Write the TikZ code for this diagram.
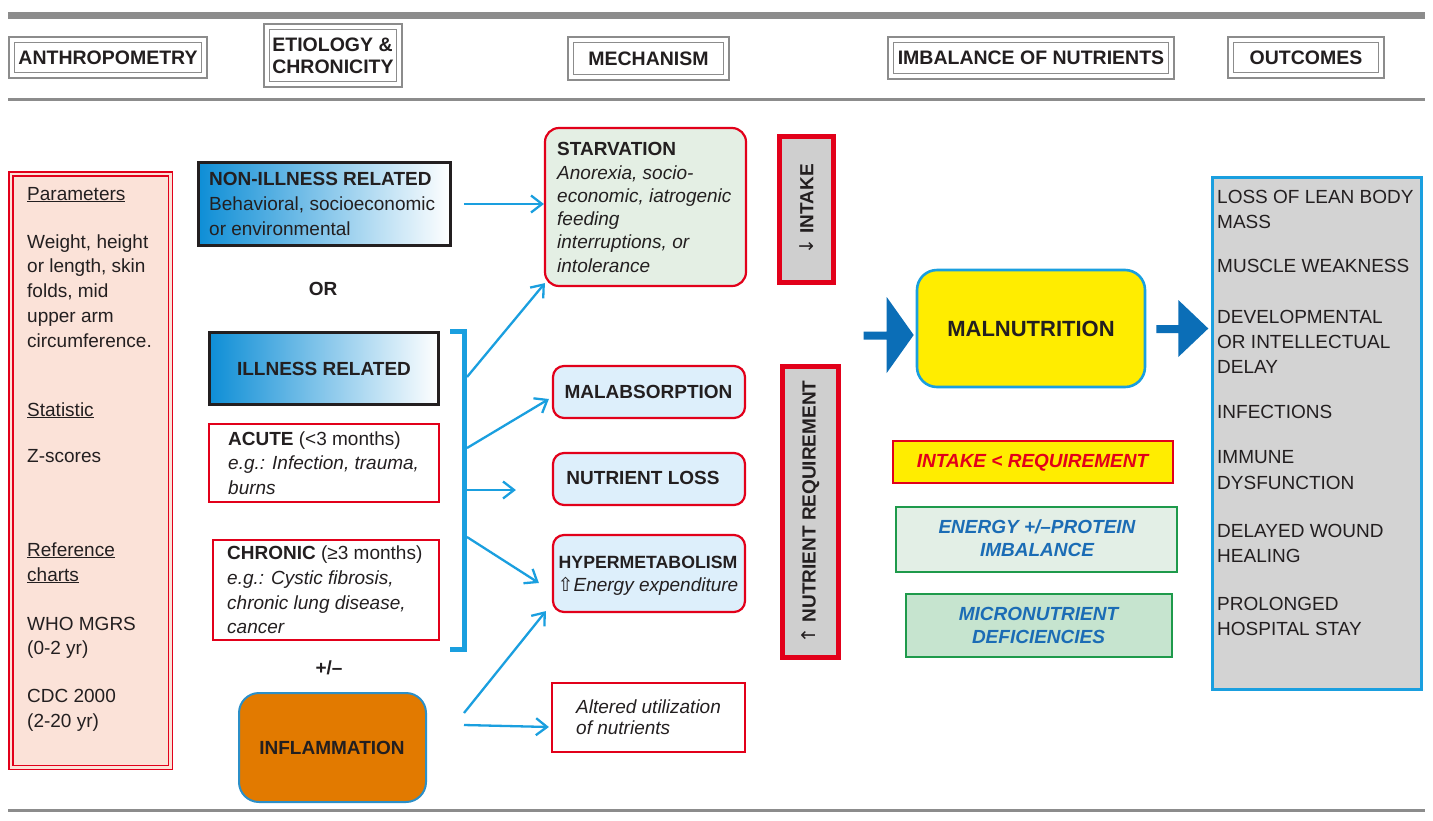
\documentclass[tikz,border=0pt]{standalone}
\usepackage{fontspec}
\setmainfont{Liberation Sans}
\newfontfamily\symfont{DejaVu Sans}
\usetikzlibrary{arrows.meta,calc}
\definecolor{ink}{HTML}{231F20}
\definecolor{hgray}{HTML}{8C8C8C}
\definecolor{rd}{HTML}{E2001A}
\definecolor{tblue}{HTML}{1A9FDF}
\definecolor{dblue}{HTML}{0B6EB7}
\definecolor{gblue}{HTML}{0E8ED6}
\definecolor{yel}{HTML}{FFED00}
\definecolor{bgray}{HTML}{CFCFCF}
\definecolor{ogray}{HTML}{D3D3D3}
\definecolor{pinkf}{HTML}{FBE2D8}
\definecolor{sgreen}{HTML}{E4EFE4}
\definecolor{lblue}{HTML}{DDEFFB}
\definecolor{efill}{HTML}{E3EFE6}
\definecolor{mfill}{HTML}{C6E4CF}
\definecolor{ggreen}{HTML}{1E9A4B}
\definecolor{gtext}{HTML}{1B6CB5}
\definecolor{orng}{HTML}{E27A00}
\definecolor{iblue}{HTML}{2B8FC8}
\newcommand\fs{\fontsize{19}{23}\selectfont}
\begin{document}
\begin{tikzpicture}[x=1pt,y=-1pt,
  every node/.style={text=ink},
  hdr/.style={draw=hgray, line width=1.7pt, double=white, double distance=4pt, inner sep=0pt,
    font=\fontsize{19.5}{22}\selectfont\bfseries, align=left},
  box/.style={inner sep=0pt, anchor=center},
  redbox/.style={box, draw=rd, line width=2.2pt},
  mbox/.style={redbox, fill=lblue, rounded corners=11pt, minimum width=192pt},
  vbox/.style={box, draw=rd, line width=5pt, fill=bgray},
  t/.style={inner sep=0pt, anchor=base west, font=\fs},
  tb/.style={t, font=\fs\bfseries},
  ti/.style={t, font=\fs\itshape},
  tc/.style={inner sep=0pt, anchor=base, font=\fs\bfseries},
  gt/.style={tc, font=\fs\bfseries\itshape, text=gtext},
  bl/.style={draw=tblue, line width=2.3pt, -{Straight Barb[length=11pt,width=17pt]}}
]
\useasboundingbox (0,0) rectangle (1433,820);
\fill[white] (0,0) rectangle (1433,820);

% rules
\draw[hgray, line width=7pt] (8,15.5) -- (1425,15.5);
\draw[hgray, line width=3pt] (8,99.5) -- (1425,99.5);
\draw[hgray, line width=3pt] (8,810) -- (1425,810);

% headers
\node[hdr, minimum width=192.6pt, minimum height=35.6pt] (hA) at (108,57.5) {ANTHROPOMETRY};
\node[hdr, minimum width=132.6pt, minimum height=57.6pt] (hE) at (333,55.5) {ETIOLOGY \&\\CHRONICITY};
\node[hdr, minimum width=155.6pt, minimum height=37.6pt] (hM) at (648.5,58.5) {MECHANISM};
\node[hdr, minimum width=280.6pt, minimum height=36.6pt] (hI) at (1031,58) {IMBALANCE OF NUTRIENTS};
\node[hdr, minimum width=150.6pt, minimum height=35.6pt] (hO) at (1306,57.5) {OUTCOMES};

% anthropometry column
\node[box, draw=rd, line width=1.5pt, double=pinkf, double distance=2.5pt, fill=pinkf,
  minimum width=159.5pt, minimum height=593.5pt] (anth) at (90.5,470.5) {};
\node[t] (a1) at (27,200) {\underline{Parameters}};
\node[t] (a2) at (27,248) {Weight, height};
\node[t] (a3) at (27,272) {or length, skin};
\node[t] (a4) at (27,297) {folds, mid};
\node[t] (a5) at (27,322) {upper arm};
\node[t] (a6) at (27,347) {circumference.};
\node[t] (a7) at (27,416) {\underline{Statistic}};
\node[t] (a8) at (27,462) {Z-scores};
\node[t] (a9) at (27,556) {\underline{Reference}};
\node[t] (a10) at (27,581) {\underline{charts}};
\node[t] (a11) at (27,630) {WHO MGRS};
\node[t] (a12) at (27,654) {(0-2 yr)};
\node[t] (a13) at (27,702) {CDC 2000};
\node[t] (a14) at (27,727) {(2-20 yr)};

% etiology column
\node[box, draw=ink, line width=2.7pt, left color=gblue, right color=white,
  minimum width=252pt, minimum height=82.5pt] (nonill) at (324.5,204) {};
\node[tb] (n1) at (209,185) {NON-ILLNESS RELATED};
\node[t] (n2) at (209,210) {Behavioral, socioeconomic};
\node[t] (n3) at (209,235) {or environmental};
\node[tc] (or) at (323,295) {OR};
\node[box, draw=ink, line width=2.7pt, left color=gblue, right color=white,
  minimum width=229pt, minimum height=72.5pt] (ill) at (324,368.5) {};
\node[tc] (illt) at (324,375) {ILLNESS RELATED};
\node[redbox, fill=white, minimum width=230pt, minimum height=78pt] (acute) at (324,463) {};
\node[t] (ac1) at (228,445) {\textbf{ACUTE} (<3 months)};
\node[ti] (ac2) at (228,469) {e.g.: Infection, trauma,};
\node[ti] (ac3) at (228,494) {burns};
\node[redbox, fill=white, minimum width=226pt, minimum height=100pt] (chron) at (326,590) {};
\node[t] (ch1) at (227,559) {\textbf{CHRONIC} (≥3 months)};
\node[ti] (ch2) at (227,584) {e.g.: Cystic fibrosis,};
\node[ti] (ch3) at (227,609) {chronic lung disease,};
\node[ti] (ch4) at (227,633) {cancer};
\node[tc] (pm) at (329,674) {+/–};
\node[box, draw=iblue, line width=2pt, fill=orng, rounded corners=20pt,
  minimum width=187pt, minimum height=109pt] (inflam) at (332.5,747.5) {};
\node[tc] (inflt) at (332,754) {INFLAMMATION};

% bracket
\coordinate (bt) at (464,331.5);
\coordinate (bb) at (464,649.5);
\draw[tblue, line width=5pt] ($(bt)+(-14,0)$) -- (bt) -- (bb) -- ($(bb)+(-14,0)$);

% mechanism column
\node[redbox, fill=sgreen, rounded corners=14pt, minimum width=201pt, minimum height=158pt] (starv) at (645.5,207) {};
\node[tb] (s1) at (557,155) {STARVATION};
\node[ti] (s2) at (557,179) {Anorexia, socio-};
\node[ti] (s3) at (557,202) {economic, iatrogenic};
\node[ti] (s4) at (557,225) {feeding};
\node[ti] (s5) at (557,248) {interruptions, or};
\node[ti] (s6) at (557,272) {intolerance};
\node[mbox, minimum height=52pt] (malab) at (649,392) {};
\node[tc] (malabt) at (648.5,398) {MALABSORPTION};
\node[mbox, minimum height=52pt] (nutl) at (649,479) {};
\node[tc] (nutlt) at (643,484) {NUTRIENT LOSS};
\node[mbox, minimum height=77pt] (hyper) at (649,573.5) {};
\node[tc, font=\fontsize{17.7}{21}\selectfont\bfseries] (hy1) at (648,568) {HYPERMETABOLISM};
\node[tc, font=\fs\itshape] (hy2) at (648,591) {{\symfont\itshape ⇧}Energy expenditure};
\node[redbox, fill=white, minimum width=193pt, minimum height=69pt] (alt) at (648.5,717.5) {};
\node[ti] (al1) at (576,713) {Altered utilization};
\node[ti] (al2) at (576,734) {of nutrients};

% intake / requirement
\node[vbox, minimum width=54pt, minimum height=146pt] (intake) at (806.5,209.5) {};
\node[rotate=90, inner sep=0pt, font=\fs\bfseries] (intaket) at (intake.center) {{\symfont\mdseries ↓} INTAKE};
\node[vbox, minimum width=56pt, minimum height=291pt] (req) at (810.5,512) {};
\node[rotate=90, inner sep=0pt, font=\fs\bfseries] (reqt) at (req.center) {{\symfont\mdseries ↑} NUTRIENT REQUIREMENT};

% malnutrition
\node[box, draw=tblue, line width=2.6pt, fill=yel, rounded corners=20pt,
  minimum width=228pt, minimum height=117pt, font=\fontsize{22}{26}\selectfont\bfseries] (maln) at (1031,328.5) {MALNUTRITION};
\begin{scope}[shift={(maln.west)}]
\fill[dblue] (-52,3) -- (-29,3) -- (-29,-31.5) -- (-2,6.5) -- (-29,44.5) -- (-29,11) -- (-52,11) -- cycle;
\end{scope}
\begin{scope}[shift={(maln.east)}]
\fill[dblue] (10,-3.5) -- (32,-3.5) -- (32,-28.5) -- (62,0) -- (32,28.5) -- (32,4.5) -- (10,4.5) -- cycle;
\end{scope}

% imbalance boxes
\node[box, draw=rd, line width=2.4pt, fill=yel, minimum width=280pt, minimum height=42pt] (ir) at (1033,462) {};
\node[tc, font=\fs\bfseries\itshape, text=rd] (irt) at (1032.5,467) {INTAKE < REQUIREMENT};
\node[box, draw=ggreen, line width=2.4pt, fill=efill, minimum width=281pt, minimum height=65pt] (ep) at (1036.5,539.5) {};
\node[gt] (ep1) at (1037,533) {ENERGY +/–PROTEIN};
\node[gt] (ep2) at (1037,556) {IMBALANCE};
\node[box, draw=ggreen, line width=2.4pt, fill=mfill, minimum width=266pt, minimum height=63pt] (mi) at (1039,625.5) {};
\node[gt] (mi1) at (1038.5,620) {MICRONUTRIENT};
\node[gt] (mi2) at (1038.5,643) {DEFICIENCIES};

% outcomes
\node[box, draw=tblue, line width=2.5pt, fill=ogray, minimum width=209pt, minimum height=512pt] (outc) at (1317,433.5) {};
\node[t] (o1) at (1217,203) {LOSS OF LEAN BODY};
\node[t] (o2) at (1217,228) {MASS};
\node[t] (o3) at (1217,272) {MUSCLE WEAKNESS};
\node[t] (o4) at (1217,323) {DEVELOPMENTAL};
\node[t] (o5) at (1217,348) {OR INTELLECTUAL};
\node[t] (o6) at (1217,373) {DELAY};
\node[t] (o7) at (1217,418) {INFECTIONS};
\node[t] (o8) at (1217,463) {IMMUNE};
\node[t] (o9) at (1217,489) {DYSFUNCTION};
\node[t] (o10) at (1217,537) {DELAYED WOUND};
\node[t] (o11) at (1217,562) {HEALING};
\node[t] (o12) at (1217,610) {PROLONGED};
\node[t] (o13) at (1217,635) {HOSPITAL STAY};

% connectors
\draw[bl] ([xshift=12pt]nonill.east) -- (nonill.east -| starv.west);
\draw[bl] ($(bt)+(3,45.5)$) -- ($(starv.south west)+(1,-4)$);
\draw[bl] ($(bt)+(3,116.5)$) -- ($(malab.west)+(-3,7)$);
\draw[bl] ($(bt)+(3,158.5)$) -- ($(nutl.west)+(-36,11)$);
\draw[bl] ($(bt)+(3,205.5)$) -- ($(hyper.west)+(-13,9.5)$);
\draw[bl] ($(inflam.east)+(37,-34.5)$) -- ($(hyper.south west)+(-6,-2)$);
\draw[bl] ($(inflam.east)+(37,-22.5)$) -- ($(alt.west)+(-2,9.5)$);
\end{tikzpicture}
\end{document}
